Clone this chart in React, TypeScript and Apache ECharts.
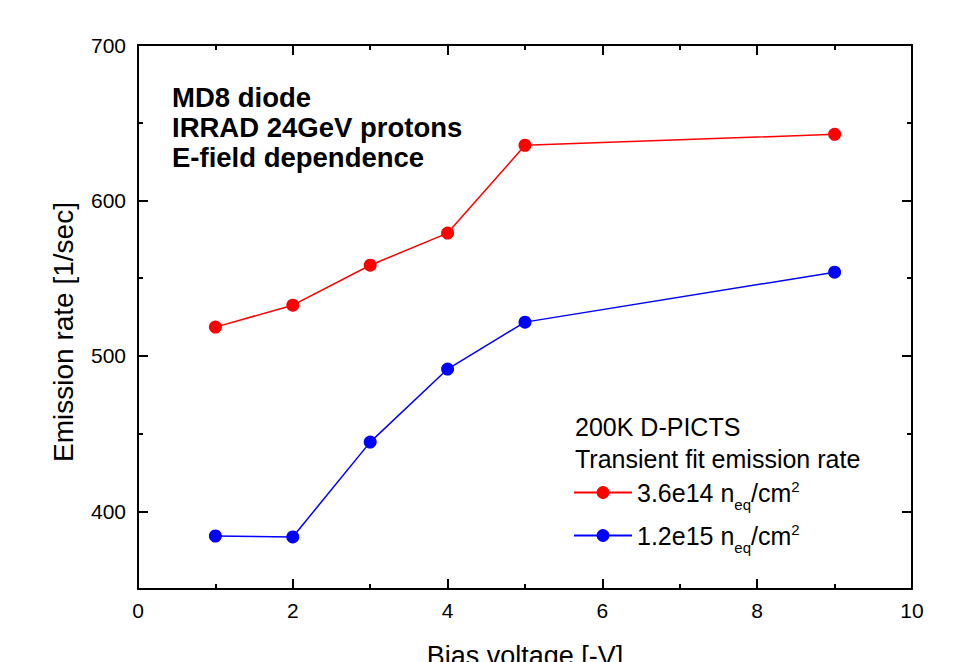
import React, { useEffect, useRef } from "react";
import * as echarts from "echarts";

const FONT = "'Liberation Sans', Arial, Helvetica, sans-serif";

const biasVoltage = [1, 2, 3, 4, 5, 9];
const rateLowFluence = [518.5, 532.6, 558.3, 579, 635.5, 642.5];
const rateHighFluence = [384.1, 383.5, 444.5, 491.5, 521.7, 553.8];

const seriesNames = ["3.6e14 neq/cm2", "1.2e15 neq/cm2"];
const legendRich: Record<string, string> = {
  "3.6e14 neq/cm2": "3.6e14 n{sub|eq}/cm{sup|2}",
  "1.2e15 neq/cm2": "1.2e15 n{sub|eq}/cm{sup|2}",
};
const yMajorTicks = [400, 500, 600, 700];
const titleLines = ["MD8 diode", "IRRAD 24GeV protons", "E-field dependence"];
const legendHeader = ["200K D-PICTS", "Transient fit emission rate"];

export default function App() {
  const ref = useRef<HTMLDivElement>(null);
  useEffect(() => {
    document.body.style.margin = "0";
    document.documentElement.style.overflow = "hidden";
    document.body.style.overflow = "hidden";
    const chart = echarts.init(ref.current!, null, { renderer: "svg" });
    const axisLine = { show: true, lineStyle: { color: "#000", width: 2 } };
    const xCommon = {
      type: "value",
      min: 0,
      max: 10,
      interval: 2,
      splitLine: { show: false },
      axisLine,
      axisTick: { show: true, inside: true, length: 10, lineStyle: { color: "#000", width: 2 } },
      minorTick: { show: true, splitNumber: 2, length: 5, lineStyle: { color: "#000", width: 2 } },
    };
    const yMajor = (pos: string, labels: boolean) => ({
      type: "value",
      position: pos,
      min: 350,
      max: 700,
      splitLine: { show: false },
      axisLine,
      axisTick: {
        show: true,
        inside: true,
        length: 10,
        customValues: yMajorTicks,
        lineStyle: { color: "#000", width: 2 },
      },
      axisLabel: labels
        ? { show: true, customValues: yMajorTicks, fontSize: 21, fontFamily: FONT, color: "#000", margin: 12 }
        : { show: false },
    });
    const yMinor = (pos: string) => ({
      type: "value",
      position: pos,
      min: 350,
      max: 700,
      interval: 50,
      splitLine: { show: false },
      axisLine: { show: false },
      axisTick: { show: true, inside: true, length: 5, lineStyle: { color: "#000", width: 2 } },
      axisLabel: { show: false },
    });
    const yLeft = {
      ...yMajor("left", true),
      name: "Emission rate [1/sec]",
      nameLocation: "middle",
      nameRotate: 90,
      nameGap: 61,
      nameTextStyle: { fontSize: 28, fontFamily: FONT, color: "#000", padding: [0, 30, 0, 0] },
    };
    chart.setOption({
      animation: false,
      backgroundColor: "#fff",
      grid: {
        left: 138,
        right: 66,
        top: 45,
        height: 544,
        containLabel: false,
        outerBoundsMode: "none",
      },
      xAxis: [
        {
          ...xCommon,
          position: "bottom",
          name: "Bias voltage [-V]",
          nameLocation: "middle",
          nameGap: 53,
          nameTextStyle: { fontSize: 27, fontFamily: FONT, color: "#000" },
          axisLabel: { fontSize: 21, fontFamily: FONT, color: "#000", margin: 11 },
        },
        { ...xCommon, position: "top", axisLabel: { show: false } },
      ],
      yAxis: [yLeft, yMinor("left"), yMajor("right", false), yMinor("right")],
      legend: {
        orient: "vertical",
        left: 573,
        top: 479,
        padding: 0,
        itemWidth: 58,
        itemHeight: 16,
        itemGap: 10,
        data: seriesNames,
        formatter: (name: string) => legendRich[name],
        textStyle: {
          fontSize: 25,
          fontFamily: FONT,
          color: "#000",
          rich: {
            sub: { fontSize: 15, fontFamily: FONT, color: "#000", padding: [24, 0, 0, 0] },
            sup: { fontSize: 15, fontFamily: FONT, color: "#000", padding: [0, 0, 12, 0] },
          },
        },
      },
      graphic: [
        {
          type: "text",
          left: 172,
          top: 82,
          style: {
            text: titleLines.join("\n"),
            font: `bold 27.5px ${FONT}`,
            lineHeight: 30,
            fill: "#000",
          },
        },
        {
          type: "text",
          left: 575,
          top: 411,
          style: {
            text: legendHeader.join("\n"),
            font: `25px ${FONT}`,
            lineHeight: 32,
            fill: "#000",
          },
        },
      ],
      series: [
        {
          name: seriesNames[0],
          type: "line",
          data: biasVoltage.map((x, i) => [x, rateLowFluence[i]]),
          symbol: "circle",
          symbolSize: 13,
          lineStyle: { color: "#ff0000", width: 1.5 },
          itemStyle: { color: "#ff0000" },
        },
        {
          name: seriesNames[1],
          type: "line",
          data: biasVoltage.map((x, i) => [x, rateHighFluence[i]]),
          symbol: "circle",
          symbolSize: 13,
          lineStyle: { color: "#0000ff", width: 1.5 },
          itemStyle: { color: "#0000ff" },
        },
      ],
    });
    return () => chart.dispose();
  }, []);
  return (
    <div
      ref={ref}
      style={{ position: "fixed", left: 0, top: 0, width: 978, height: 662, background: "#fff" }}
    />
  );
}
